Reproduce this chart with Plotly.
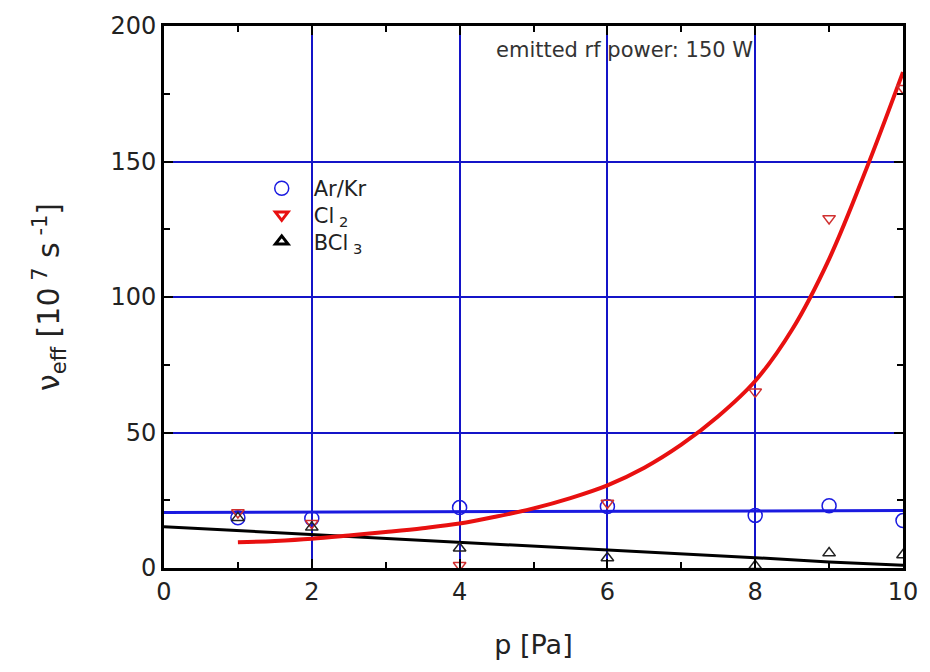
import plotly.graph_objects as go

# Measured collision frequencies vs. pressure
p_meas = [1, 2, 4, 6, 8, 9, 10]
ar_kr = [18.5, 18.3, 22.3, 22.7, 19.4, 23.0, 17.5]
cl2 = [20.5, 16.5, 1.0, 24.0, 65.0, 129.0, 177.0]
bcl3 = [18.5, 15.0, 7.3, 3.7, 0.8, 5.5, 4.8]

# Fit curves
ar_fit_p = [0, 10]
ar_fit = [20.5, 21.2]
cl2_fit_p = [1.0, 1.5, 2.0, 2.5, 3.0, 3.5, 4.0, 4.5, 5.0, 5.5, 6.0, 6.5, 7.0, 7.5, 8.0, 8.5, 9.0, 9.5, 10.0]
cl2_fit = [9.5, 10.0, 10.8, 12.0, 13.3, 14.7, 16.4, 19.0, 22.0, 25.8, 30.5, 37.0, 45.5, 56.0, 69.0, 88.0, 114.0, 147.0, 183.0]
bcl3_fit_p = [0, 2, 4, 6, 8, 9, 10]
bcl3_fit = [15.2, 12.4, 9.5, 6.6, 3.8, 2.2, 1.0]

x_ticks = [0, 2, 4, 6, 8, 10]
y_ticks = [0, 50, 100, 150, 200]

BLUE = "#1a1ae0"
RED = "#e81010"
GRID = "#1414c8"
FONT = "DejaVu Sans, Liberation Sans, Arial, sans-serif"
TEXT = "#222222"

fig = go.Figure()

# fitted lines
fig.add_trace(go.Scatter(x=ar_fit_p, y=ar_fit, mode="lines",
                         line=dict(color=BLUE, width=3), showlegend=False))
fig.add_trace(go.Scatter(x=bcl3_fit_p, y=bcl3_fit, mode="lines",
                         line=dict(color="black", width=3), showlegend=False))
fig.add_trace(go.Scatter(x=cl2_fit_p, y=cl2_fit, mode="lines", line_shape="spline",
                         line=dict(color=RED, width=4), showlegend=False))

# measured points
fig.add_trace(go.Scatter(x=p_meas, y=ar_kr, mode="markers", showlegend=False,
                         marker=dict(symbol="circle-open", size=14, color=BLUE,
                                     line=dict(width=1.5, color=BLUE))))
fig.add_trace(go.Scatter(x=p_meas, y=cl2, mode="markers", showlegend=False,
                         marker=dict(symbol="triangle-down-open", size=11, color="#d03030",
                                     line=dict(width=1.5, color="#d03030"))))
fig.add_trace(go.Scatter(x=p_meas, y=bcl3, mode="markers", showlegend=False,
                         marker=dict(symbol="triangle-up-open", size=11, color="#222222",
                                     line=dict(width=1.5, color="#222222"))))

# legend entries, one legend box per row so the rows sit evenly spaced
fig.add_trace(go.Scatter(x=[None], y=[None], mode="markers", name="Ar/Kr", legend="legend",
                         marker=dict(symbol="circle-open", size=14, color=BLUE,
                                     line=dict(width=1.5, color=BLUE))))
fig.add_trace(go.Scatter(x=[None], y=[None], mode="markers", name="Cl<sub> 2</sub>", legend="legend2",
                         marker=dict(symbol="triangle-down-open", size=11, color=RED,
                                     line=dict(width=3, color=RED))))
fig.add_trace(go.Scatter(x=[None], y=[None], mode="markers", name="BCl<sub> 3</sub>", legend="legend3",
                         marker=dict(symbol="triangle-up-open", size=11, color="black",
                                     line=dict(width=3, color="black"))))

fig.add_annotation(x=6.23, y=191, xref="x", yref="y", showarrow=False,
                   text="emitted rf power: 150 W",
                   font=dict(family=FONT, size=21, color="#333333"))

axis_common = dict(
    showline=True, linewidth=3, linecolor="black", mirror="allticks",
    ticks="inside", ticklen=9, tickwidth=2, tickcolor="black",
    showgrid=True, gridcolor=GRID, gridwidth=1.5, zeroline=False,
    tickfont=dict(family=FONT, size=24, color=TEXT),
)

fig.update_xaxes(range=[0, 10], tickvals=x_ticks,
                 minor=dict(ticks="inside", ticklen=6, tickwidth=2, tickcolor="black",
                            dtick=1, showgrid=False),
                 title=dict(text="p [Pa]", font=dict(family=FONT, size=27, color=TEXT),
                            standoff=31),
                 **axis_common)
fig.update_yaxes(range=[0, 200], tickvals=y_ticks,
                 minor=dict(ticks="inside", ticklen=6, tickwidth=2, tickcolor="black",
                            dtick=25, showgrid=False),
                 title=dict(text="ν<sub>eff</sub> [10<sup> 7</sup> s<sup> -1</sup>]",
                            font=dict(family=FONT, size=30, color=TEXT),
                            standoff=42),
                 **axis_common)

legend_style = dict(xanchor="left", yanchor="middle", bgcolor="rgba(0,0,0,0)",
                    font=dict(family=FONT, size=21, color=TEXT), itemwidth=54)

fig.update_layout(
    width=930, height=672,
    margin=dict(l=164, r=23, t=22, b=104),
    paper_bgcolor="white", plot_bgcolor="white",
    font=dict(family=FONT, color=TEXT),
    legend=dict(x=0.116, y=0.700, **legend_style),
    legend2=dict(x=0.116, y=0.651, **legend_style),
    legend3=dict(x=0.116, y=0.602, **legend_style),
)

fig.write_html("out.html")
